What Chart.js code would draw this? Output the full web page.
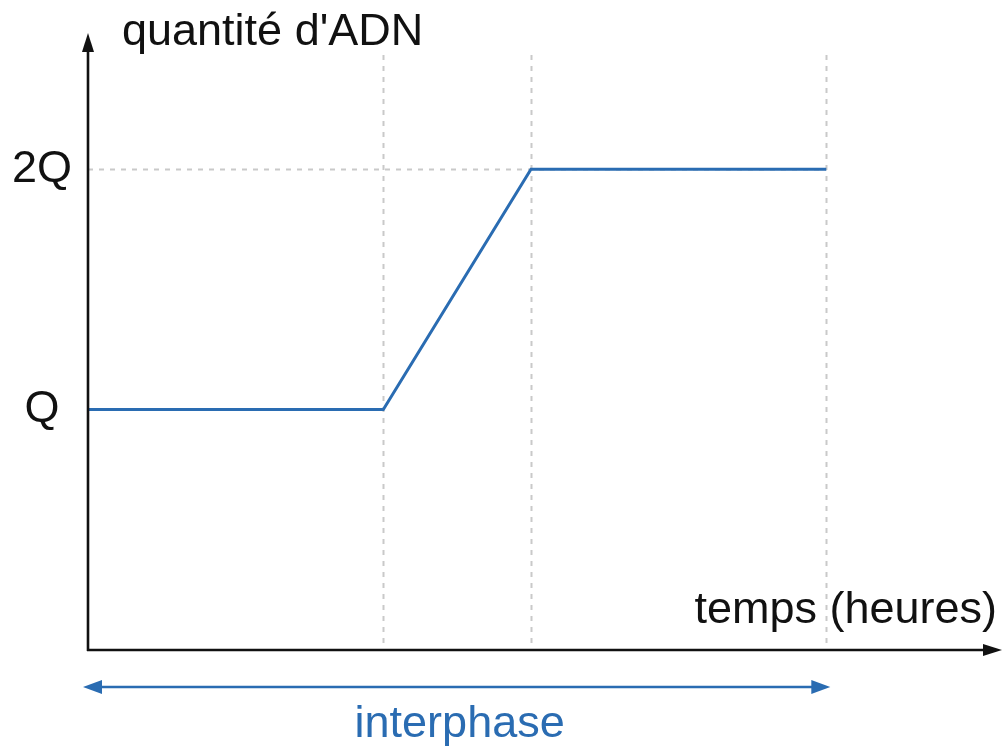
<!DOCTYPE html>
<html>
<head>
<meta charset="utf-8">
<script src="https://cdn.jsdelivr.net/npm/chart.js@4"></script>
<style>
  html, body { margin: 0; padding: 0; background: #ffffff; }
  #wrap { width: 1005px; height: 749px; position: relative; }
</style>
</head>
<body>
<div id="wrap"><canvas id="c" width="1005" height="749"></canvas></div>
<script>
// ---- data ----
const timeValues = [0, 2, 3, 5];
const dnaValues = [1, 1, 2, 2];
const yTickValues = [1, 2];
const yTickLabels = ['Q', '2Q'];
const markerTimes = [2, 3, 5];
const plateauLevel = 2;
const interphaseRange = [0, 5];
const yAxisTitle = "quantité d'ADN";
const xAxisTitle = "temps (heures)";
const phaseLabel = "interphase";

const FONT = "'Liberation Sans', Arial, Helvetica, sans-serif";
const BLUE = '#2a6cb2';

function arrowHead(ctx, tipX, tipY, dirX, dirY, len, half) {
  const bx = tipX - dirX * len, by = tipY - dirY * len;
  const px = -dirY, py = dirX;
  ctx.beginPath();
  ctx.moveTo(tipX, tipY);
  ctx.lineTo(bx + px * half, by + py * half);
  ctx.lineTo(bx - px * half, by - py * half);
  ctx.closePath();
  ctx.fill();
}

const decor = {
  id: 'decor',
  beforeDatasetsDraw(chart) {
    const { ctx, chartArea, scales: { x, y } } = chart;
    ctx.save();
    ctx.strokeStyle = '#c9c9c9';
    ctx.lineWidth = 2;
    ctx.setLineDash([5, 6]);
    markerTimes.forEach(t => {
      const px = Math.round(x.getPixelForValue(t)) + 0.5;
      ctx.beginPath();
      ctx.moveTo(px, 55);
      ctx.lineTo(px, y.getPixelForValue(0));
      ctx.stroke();
    });
    const hy = Math.round(y.getPixelForValue(plateauLevel)) + 0.5;
    ctx.beginPath();
    ctx.moveTo(x.getPixelForValue(0), hy);
    ctx.lineTo(x.getPixelForValue(markerTimes[markerTimes.length - 1]), hy);
    ctx.stroke();
    ctx.restore();
  },
  afterDraw(chart) {
    const { ctx, chartArea, scales: { x, y } } = chart;
    const x0 = x.getPixelForValue(0);
    const y0 = y.getPixelForValue(0);
    ctx.save();
    ctx.strokeStyle = '#111';
    ctx.fillStyle = '#111';
    ctx.lineWidth = 2.6;
    ctx.beginPath();
    ctx.moveTo(x0, y0 + 1);
    ctx.lineTo(x0, 45);
    ctx.stroke();
    arrowHead(ctx, x0, 33, 0, -1, 19, 6);
    ctx.beginPath();
    ctx.moveTo(x0 - 1, y0);
    ctx.lineTo(chartArea.right - 12, y0);
    ctx.stroke();
    arrowHead(ctx, chartArea.right, y0, 1, 0, 19, 6);

    ctx.font = '45px ' + FONT;
    ctx.textBaseline = 'alphabetic';
    ctx.textAlign = 'left';
    ctx.fillText(yAxisTitle, 122, 45);
    ctx.textAlign = 'right';
    ctx.fillText(xAxisTitle, 997, 623);

    const a = x.getPixelForValue(interphaseRange[0]) - 5;
    const b = x.getPixelForValue(interphaseRange[1]) + 4;
    const ay = y0 + 37;
    ctx.strokeStyle = BLUE;
    ctx.fillStyle = BLUE;
    ctx.lineWidth = 2.6;
    ctx.beginPath();
    ctx.moveTo(a + 12, ay);
    ctx.lineTo(b - 12, ay);
    ctx.stroke();
    arrowHead(ctx, a, ay, -1, 0, 19, 7);
    arrowHead(ctx, b, ay, 1, 0, 19, 7);
    ctx.textAlign = 'center';
    ctx.fillText(phaseLabel, (a + b) / 2 + 3, 737);
    ctx.restore();
  }
};

new Chart(document.getElementById('c'), {
  type: 'line',
  data: {
    datasets: [{
      data: timeValues.map((t, i) => ({ x: t, y: dnaValues[i] })),
      borderColor: BLUE,
      borderWidth: 3,
      pointRadius: 0,
      tension: 0,
      fill: false
    }]
  },
  options: {
    responsive: false,
    animation: false,
    devicePixelRatio: 1,
    layout: { padding: { left: 0, right: 3, top: 0, bottom: 99 } },
    plugins: { legend: { display: false }, tooltip: { enabled: false } },
    scales: {
      x: {
        type: 'linear',
        min: 0,
        max: 6.19,
        display: false
      },
      y: {
        type: 'linear',
        min: 0,
        max: 2.577,
        grid: { display: false },
        border: { display: false },
        afterBuildTicks(scale) {
          scale.ticks = yTickValues.map(v => ({ value: v }));
        },
        afterFit(scale) { scale.width = 88; },
        ticks: {
          padding: 8,
          crossAlign: 'center',
          color: '#111',
          font: { size: 45, family: FONT, lineHeight: 1 },
          callback(value) {
            const i = yTickValues.indexOf(value);
            return i >= 0 ? yTickLabels[i] : '';
          }
        }
      }
    }
  },
  plugins: [decor]
});
</script>
</body>
</html>
